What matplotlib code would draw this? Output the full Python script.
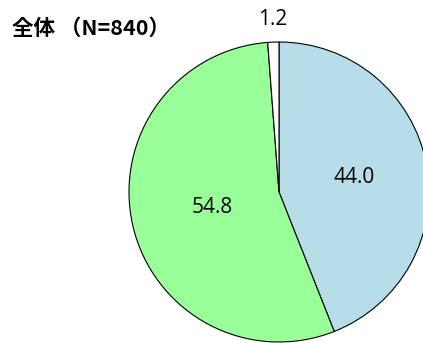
import numpy as np
import matplotlib.pyplot as plt

# データ
values = [44.0, 54.8, 1.2]
labels = ['44.0', '54.8', '1.2']
colors = ['#B7DDE8', '#99FF99', '#FFFFFF']
label_dist = [0.51, 0.46, 1.15]
title = '全体 （N=840）'

plt.rcParams['font.family'] = ['Noto Sans CJK JP', 'DejaVu Sans']

fig = plt.figure(figsize=(4.23, 3.43), dpi=100)
# 円の外枠に合わせた軸（右端は図の外にはみ出す）
ax = fig.add_axes([129 / 423, 1 / 343, 300 / 423, 300 / 343])

wedges, _ = ax.pie(values, colors=colors, startangle=90, counterclock=False,
                   wedgeprops=dict(edgecolor='black', linewidth=0.8),
                   radius=1.0, frame=False)
ax.set_xlim(-1, 1)
ax.set_ylim(-1, 1)
ax.axis('off')

for w, lab, d in zip(wedges, labels, label_dist):
    ang = np.deg2rad((w.theta1 + w.theta2) / 2)
    ax.text(d * np.cos(ang), d * np.sin(ang), lab, ha='center', va='center',
            fontsize=15, family=['Open Sans', 'DejaVu Sans'], clip_on=False)

fig.text(12 / 423, 1 - 28 / 343, title, fontsize=15.5, fontweight='bold',
         ha='left', va='center')

fig.savefig('out.png', dpi=100)
